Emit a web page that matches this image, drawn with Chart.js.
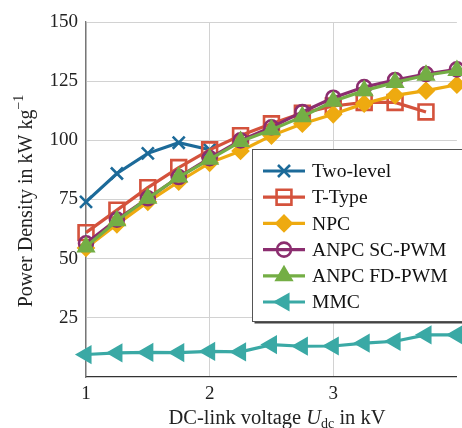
<!DOCTYPE html>
<html>
<head>
<meta charset="utf-8">
<script src="https://cdn.jsdelivr.net/npm/chart.js"></script>
<style>
  html, body { margin: 0; padding: 0; background: #fff; }
  #wrap { width: 462px; height: 428px; overflow: hidden; position: relative; }
  #chart { display: block; }
</style>
</head>
<body>
<div id="wrap"><canvas id="chart" width="470" height="428"></canvas></div>
<script>
// DC-link voltage in kV
const voltages = [1, 1.25, 1.5, 1.75, 2, 2.25, 2.5, 2.75, 3, 3.25, 3.5, 3.75, 4];

// power density in kW/kg
const twoLevel = [74, 86, 94.5, 99, 96];
const tType = [61, 70.5, 80, 88.5, 96, 102, 107, 111.5, 114.5, 116, 116, 112];
const npc = [54.5, 64.5, 74, 82.5, 90.5, 95.5, 102, 107, 111, 115.5, 119, 121, 123.5];
const anpcSc = [56.5, 66.5, 75.5, 84.5, 92.5, 100, 105.5, 112, 118, 122.5, 125.5, 128, 130];
const anpcFd = [55, 66, 75.5, 84.5, 92, 99.5, 104.5, 110, 116.5, 121, 124.5, 127.5, 129.5];
const mmc = [9.5, 10.2, 10.4, 10.3, 10.8, 10.6, 13.7, 13.0, 13.1, 14.3, 15.1, 17.8, 17.8];

const seriesNames = ['Two-level', 'T-Type', 'NPC', 'ANPC SC-PWM', 'ANPC FD-PWM', 'MMC'];
const xTicks = [1, 2, 3];
const yTicks = [25, 50, 75, 100, 125, 150];

const serif = '"Liberation Serif", "Times New Roman", serif';

function toPoints(values) {
  return values.map((v, i) => ({ x: voltages[i], y: v }));
}

function series(label, values, color, style, radius, hollow, order, rotation) {
  return {
    label: label,
    data: toPoints(values),
    borderColor: color,
    backgroundColor: color,
    borderWidth: 3.2,
    pointStyle: style,
    pointRadius: radius,
    pointRotation: rotation || 0,
    pointBorderColor: color,
    pointBackgroundColor: hollow ? 'rgba(0,0,0,0)' : color,
    pointBorderWidth: 2.6,
    tension: 0,
    clip: false,
    order: order
  };
}

const datasets = [
  series(seriesNames[0], twoLevel, '#1c6a99', 'crossRot', 8.5, false, 6),
  series(seriesNames[1], tType, '#d4523c', 'rect', 10.5, true, 5),
  series(seriesNames[2], npc, '#eeaa10', 'rectRot', 7.5, false, 4),
  series(seriesNames[3], anpcSc, '#8b2d6f', 'circle', 7, true, 3),
  series(seriesNames[4], anpcFd, '#74ae45', 'triangle', 8.5, false, 2),
  series(seriesNames[5], mmc, '#3aa9a5', 'triangle', 8.5, false, 1, -90)
];

// draw a run of text pieces (for sub/superscripts)
function drawRun(ctx, parts, cx, baseline) {
  let total = 0;
  parts.forEach(p => { ctx.font = p.f; p.w = ctx.measureText(p.t).width; total += p.w; });
  let x = cx - total / 2;
  ctx.textAlign = 'left';
  ctx.textBaseline = 'alphabetic';
  parts.forEach(p => { ctx.font = p.f; ctx.fillText(p.t, x, baseline + p.dy); x += p.w; });
}

const axisTitles = {
  id: 'axisTitles',
  afterDraw(chart) {
    const ctx = chart.ctx;
    ctx.save();
    ctx.fillStyle = '#222';
    drawRun(ctx, [
      { t: 'DC-link voltage ', f: '20.5px ' + serif, dy: 0 },
      { t: 'U', f: 'italic 20.5px ' + serif, dy: 0 },
      { t: 'dc', f: '14px ' + serif, dy: 4 },
      { t: ' in kV', f: '20.5px ' + serif, dy: 0 }
    ], 277, 424);
    ctx.translate(32, 201);
    ctx.rotate(-Math.PI / 2);
    drawRun(ctx, [
      { t: 'Power Density in kW kg', f: '20px ' + serif, dy: 0 },
      { t: '\u22121', f: '14px ' + serif, dy: -9 }
    ], 0, 0);
    ctx.restore();
  }
};

// legend box inside the plot
const boxLegend = {
  id: 'boxLegend',
  afterDraw(chart) {
    const ctx = chart.ctx;
    const left = 252.5, top = 149.5, right = 480, bottom = 321.5;
    ctx.save();
    ctx.fillStyle = '#444';
    ctx.fillRect(left + 2, top + 2, right - left, bottom - top);
    ctx.fillStyle = '#fff';
    ctx.fillRect(left, top, right - left, bottom - top);
    ctx.strokeStyle = '#555';
    ctx.lineWidth = 1;
    ctx.strokeRect(left, top, right - left, bottom - top);

    chart.data.datasets.forEach((ds, i) => {
      const y = 171 + i * 26.2;
      ctx.strokeStyle = ds.borderColor;
      ctx.lineWidth = ds.borderWidth;
      ctx.beginPath();
      ctx.moveTo(263, y);
      ctx.lineTo(305, y);
      ctx.stroke();
      ctx.fillStyle = ds.pointBackgroundColor;
      ctx.strokeStyle = ds.pointBorderColor;
      ctx.lineWidth = ds.pointBorderWidth;
      Chart.helpers.drawPoint(ctx, {
        pointStyle: ds.pointStyle,
        rotation: ds.pointRotation,
        radius: ds.pointRadius,
        borderWidth: ds.pointBorderWidth
      }, 284, y);
      ctx.fillStyle = '#111';
      ctx.font = '19.6px ' + serif;
      ctx.textAlign = 'left';
      ctx.textBaseline = 'middle';
      ctx.fillText(ds.label, 312, y + 1);
    });
    ctx.restore();
  }
};

new Chart(document.getElementById('chart').getContext('2d'), {
  type: 'line',
  data: { datasets: datasets },
  options: {
    responsive: false,
    animation: false,
    devicePixelRatio: 1,
    layout: { padding: { top: 22, right: 0, left: 0, bottom: 0 } },
    plugins: {
      legend: { display: false },
      tooltip: { enabled: false }
    },
    scales: {
      x: {
        type: 'linear',
        min: 1,
        max: 4,
        afterFit: s => { s.height = 51; },
        afterBuildTicks: s => { s.ticks = xTicks.map(v => ({ value: v })); },
        ticks: {
          color: '#222',
          padding: 6,
          font: { family: serif, size: 19 }
        },
        grid: { color: '#d2d2d2', lineWidth: 1, drawTicks: false },
        border: { color: '#333', width: 1.3 }
      },
      y: {
        min: 0,
        max: 150,
        afterFit: s => { s.width = 86; },
        afterBuildTicks: s => { s.ticks = yTicks.map(v => ({ value: v })); },
        ticks: {
          color: '#222',
          padding: 8,
          font: { family: serif, size: 19 }
        },
        grid: { color: '#d2d2d2', lineWidth: 1, drawTicks: false },
        border: { color: '#777', width: 1.3 }
      }
    }
  },
  plugins: [axisTitles, boxLegend]
});
</script>
</body>
</html>
